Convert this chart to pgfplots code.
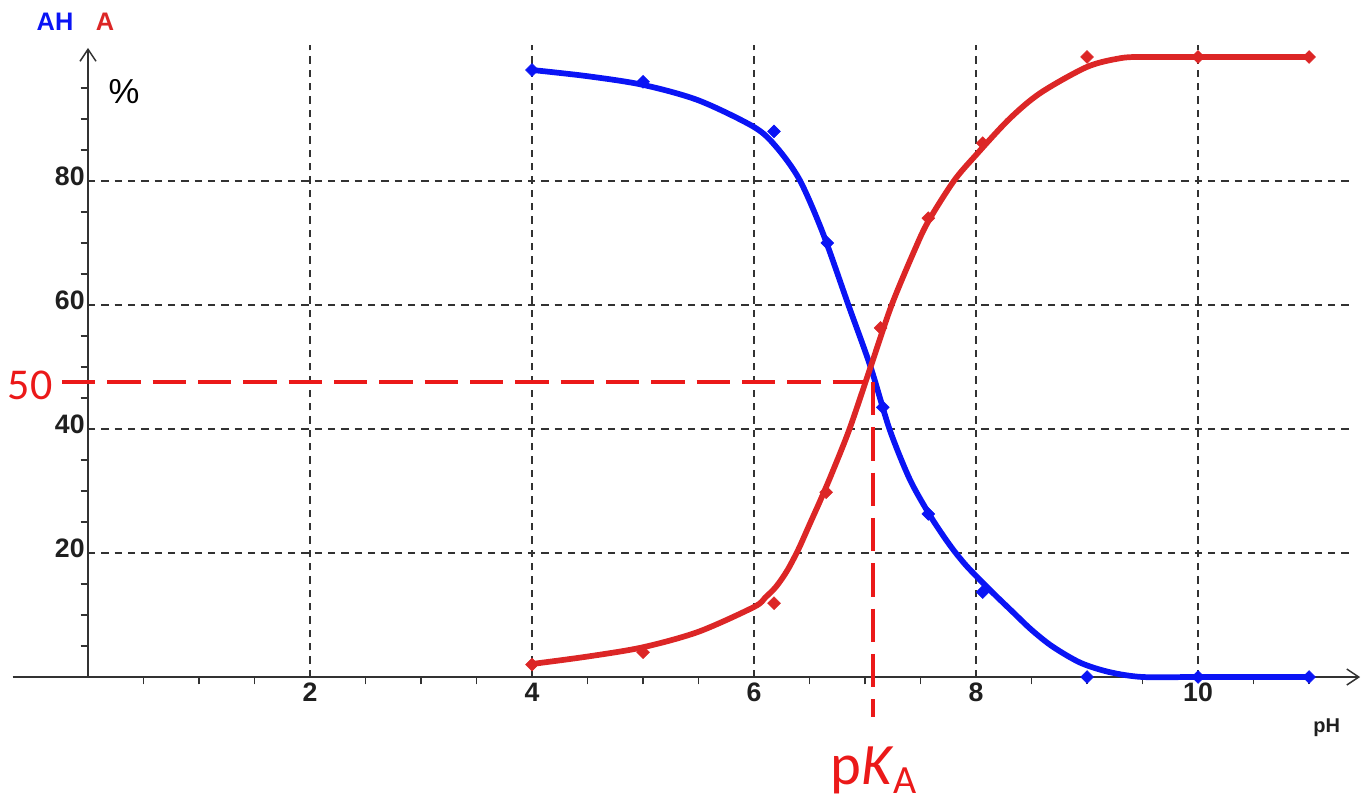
\documentclass[border=0pt]{standalone}
\usepackage{pgfplots}
\pgfplotsset{compat=1.18}
\usetikzlibrary{arrows.meta}
\usepackage{fontspec}
\setmainfont{Liberation Sans}
\newfontfamily\calib{Carlito}
\definecolor{cblue}{RGB}{10,20,245}
\definecolor{cred}{RGB}{220,38,38}
\definecolor{dred}{RGB}{235,25,25}
\definecolor{axgray}{RGB}{50,50,50}
\begin{document}
\begin{tikzpicture}
\begin{axis}[
  x=83.25pt, y=4.65pt,
  xmin=-0.68, xmax=11.46, ymin=0, ymax=101.45,
  axis lines=middle,
  axis line style={axgray, line width=1.8pt, -{Straight Barb[length=9pt,width=12pt,line width=1.1pt]}},
  clip=false,
  xtick={2,4,6,8,10},
  ytick={20,40,60,80},
  minor xtick={0.5,1,1.5,2.5,3,3.5,4.5,5,5.5,6.5,7,7.5,8.5,9,9.5,10.5,11},
  minor ytick={5,10,15,25,30,35,45,50,55,65,70,75,85,90,95},
  major tick length=0pt,
  minor tick length=5.5pt,
  tick align=outside,
  tick style={axgray, line width=1.4pt},
  ticklabel style={font=\fontsize{20}{22}\selectfont\bfseries, text=black!88},
  /pgf/number format/assume math mode=true,
  yticklabel style={yshift=3.5pt, xshift=1pt},
  xticklabel style={yshift=-1pt},
]
% grid
\draw[axgray, line width=1.7pt, dash pattern=on 5.5pt off 4.5pt] (axis cs:0,20) -- (axis cs:11.4,20);
\draw[axgray, line width=1.7pt, dash pattern=on 5.5pt off 4.5pt] (axis cs:0,40) -- (axis cs:11.4,40);
\draw[axgray, line width=1.7pt, dash pattern=on 5.5pt off 4.5pt] (axis cs:0,60) -- (axis cs:11.4,60);
\draw[axgray, line width=1.7pt, dash pattern=on 5.5pt off 4.5pt] (axis cs:0,80) -- (axis cs:11.4,80);
\draw[axgray, line width=1.7pt, dash pattern=on 5.5pt off 4.5pt] (axis cs:2,0) -- (axis cs:2,102);
\draw[axgray, line width=1.7pt, dash pattern=on 5.5pt off 4.5pt] (axis cs:4,0) -- (axis cs:4,102);
\draw[axgray, line width=1.7pt, dash pattern=on 5.5pt off 4.5pt] (axis cs:6,0) -- (axis cs:6,102);
\draw[axgray, line width=1.7pt, dash pattern=on 5.5pt off 4.5pt] (axis cs:8,0) -- (axis cs:8,102);
\draw[axgray, line width=1.7pt, dash pattern=on 5.5pt off 4.5pt] (axis cs:10,0) -- (axis cs:10,102);

% AH curve
\addplot[cblue, line width=4.3pt, smooth, tension=0.5] coordinates {
(4,97.9) (4.5,96.9) (5,95.5) (5.5,93) (6,88.7) (6.2,85.5) (6.41,80.2) (6.62,71.6)
(6.85,60) (7.05,50) (7.22,40) (7.4,32) (7.57,26.5) (7.7,22.9) (7.8,20.4) (7.9,18.2)
(8.0,16.3) (8.15,13.6) (8.33,10.5) (8.5,7.6) (8.69,4.9) (8.94,2.3) (9.2,0.8) (9.5,0) (10,0) (11,0)};
\addplot[only marks, mark=square*, mark size=3.4pt, mark options={rotate=45, draw=cblue, fill=cblue}] coordinates {
(4,97.9) (5,96) (6.18,88) (6.66,70) (7.16,43.5) (7.57,26.3) (8.06,13.7) (9,0) (10,0) (11,0)};

% A curve
\addplot[cred, line width=4.3pt, smooth, tension=0.5] coordinates {
(4,2.1) (4.5,3.3) (5,4.8) (5.5,7.3) (6,11.3) (6.1,12.8) (6.2,14.6) (6.3,17.2) (6.4,20.6)
(6.5,24.6) (6.6,28.6) (6.7,32.8) (6.86,40) (7.05,50) (7.24,60) (7.45,69) (7.57,73.5)
(7.8,80) (8.0,84.2) (8.3,90) (8.58,94.2) (9,98.4) (9.3,99.8) (9.5,100) (10,100) (11,100)};
\addplot[only marks, mark=square*, mark size=3.4pt, mark options={rotate=45, draw=cred, fill=cred}] coordinates {
(4,2) (5,4) (6.18,11.9) (6.65,29.8) (7.14,56.3) (7.57,74) (8.06,86.1) (9,100) (10,100) (11,100)};

% pKa construction
\draw[dred, line width=3.4pt, dash pattern=on 25pt off 9pt] (axis cs:-0.234,47.6) -- (axis cs:7.07,47.6);
\draw[dred, line width=3.4pt, dash pattern=on 25pt off 9pt] (axis cs:7.07,47.6) -- (axis cs:7.07,-6.5);

% labels
\node[text=cblue, font=\fontsize{19}{20}\selectfont\bfseries] at (axis cs:-0.297,105.6) {AH};
\node[text=cred, font=\fontsize{19}{20}\selectfont\bfseries] at (axis cs:0.153,105.6) {A};
\node[font=\fontsize{26}{28}\selectfont] at (axis cs:0.324,94.35) {\%};
\node[text=black!88, font=\fontsize{15}{16}\selectfont\bfseries] at (axis cs:11.16,-8.2) {pH};
\node[text=dred, font=\calib\fontsize{33}{35}\selectfont] at (axis cs:-0.52,47.1) {50};
\node[text=dred, font=\calib\fontsize{44}{46}\selectfont, anchor=base, inner sep=0pt] at (axis cs:7.08,-17.3) {p\textit{K}\raisebox{-7pt}{\fontsize{30}{30}\selectfont A}};

\path (axis cs:-0.7928,109.19) rectangle (axis cs:11.486,-20.65);
\end{axis}
\end{tikzpicture}
\end{document}
